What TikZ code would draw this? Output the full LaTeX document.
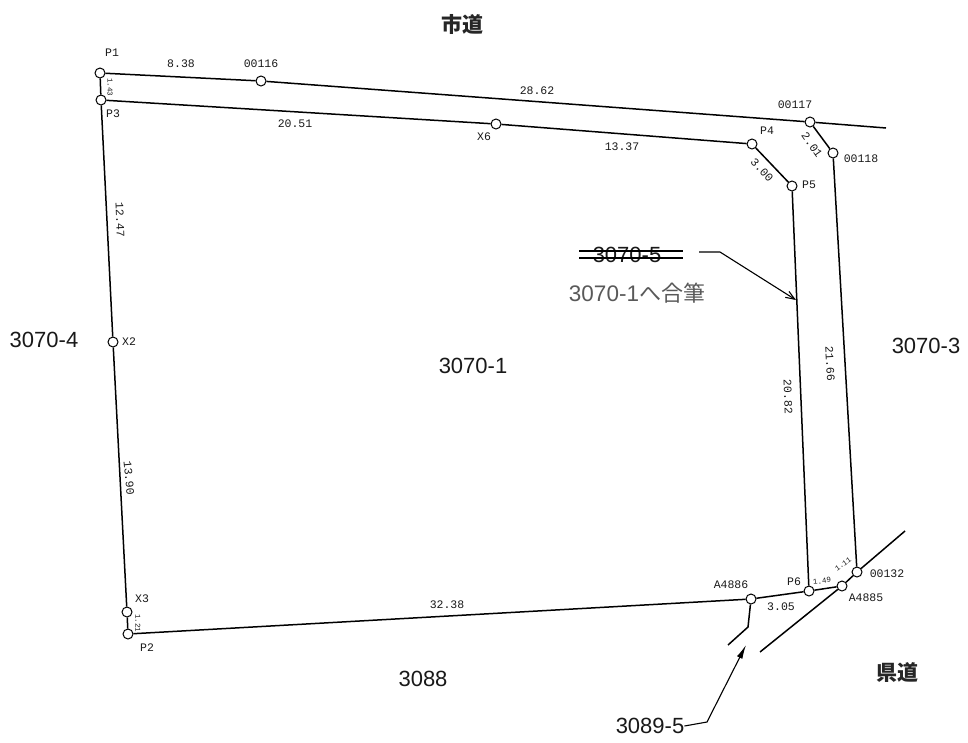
\documentclass[tikz,border=0pt]{standalone}
\usepackage{fontspec}
\setmainfont{Liberation Sans}
\newfontfamily\plot{Liberation Mono}
\newfontfamily\cjk{Noto Sans CJK JP}
\usetikzlibrary{arrows.meta}
\tikzset{
  pt/.style={circle,draw=black,fill=white,line width=1pt,minimum size=10pt,inner sep=0pt},
  ln/.style={draw=black,line width=1.5pt},
  thin line/.style={draw=black,line width=1.1pt},
  sm/.style={font=\plot\fontsize{11.5}{11.5}\selectfont,inner sep=0pt,text=black!90},
  tiny label/.style={font=\plot\fontsize{7.5}{7.5}\selectfont,inner sep=0pt,text=black!90},
  big/.style={font=\fontsize{22}{22}\selectfont,inner sep=0pt,text=black!90},
  han/.style={font=\cjk\bfseries\fontsize{21}{21}\selectfont,inner sep=0pt,text=black!85},
  gray label/.style={font=\fontsize{22.5}{22.5}\selectfont,inner sep=0pt,text=black!65}
}
\begin{document}
\begin{tikzpicture}[x=1pt,y=-1pt]
\useasboundingbox (0,0) rectangle (968,742);
% points
\node[pt] (P1) at (100,73) {};
\node[pt] (n116) at (261,81) {};
\node[pt] (n117) at (810,122) {};
\node[pt] (n118) at (833,153) {};
\node[pt] (P3) at (101,100) {};
\node[pt] (X6) at (496,124) {};
\node[pt] (P4) at (752,144) {};
\node[pt] (P5) at (792,186) {};
\node[pt] (X2) at (113,342) {};
\node[pt] (X3) at (127,612) {};
\node[pt] (P2) at (128,634) {};
\node[pt] (A4886) at (751,599) {};
\node[pt] (P6) at (809,591) {};
\node[pt] (A4885) at (842,586) {};
\node[pt] (n132) at (857,572) {};
\coordinate (roadE) at (886,128);
\coordinate (sw) at (760,652);
\coordinate (ne) at (905,531);
\coordinate (b1) at (748,627);
\coordinate (b2) at (728,645);
% lines
\draw[ln] (P1)--(n116);
\draw[ln] (n116)--(n117);
\draw[ln] (n117)--(roadE);
\draw[ln] (n117)--(n118);
\draw[ln] (n118)--(n132);
\draw[ln] (P1)--(P3);
\draw[ln] (P3)--(X6);
\draw[ln] (X6)--(P4);
\draw[ln] (P4)--(P5);
\draw[ln] (P5)--(P6);
\draw[ln] (P3)--(X2);
\draw[ln] (X2)--(X3);
\draw[ln] (X3)--(P2);
\draw[ln] (P2)--(A4886);
\draw[ln] (A4886)--(P6);
\draw[ln] (P6)--(A4885);
\draw[ln] (A4885)--(n132);
\draw[ln] (sw)--(A4885);
\draw[ln] (n132)--(ne);
\draw[ln] (A4886)--(b1)--(b2);
% small labels
\node[sm] (lP1) at (112,53) {P1};
\node[sm] (l116) at (261,64) {00116};
\node[sm] (l838) at (181,64) {8.38};
\node[sm] (l2862) at (537,91) {28.62};
\node[sm] (l117) at (795,105) {00117};
\node[sm] (l118) at (861,159) {00118};
\node[sm] (lP4) at (767,131) {P4};
\node[sm] (lP5) at (809,185) {P5};
\node[sm] (lP3) at (113,114) {P3};
\node[sm] (l2051) at (295,124) {20.51};
\node[sm] (lX6) at (484,137) {X6};
\node[sm] (l1337) at (622,147) {13.37};
\node[sm,rotate=-48] (l300) at (762,170) {3.00};
\node[sm,rotate=-55] (l201) at (812,145) {2.01};
\node[tiny label,rotate=-90] (l143) at (110,87) {1.43};
\node[sm,rotate=-88] (l1247) at (120,220) {12.47};
\node[sm] (lX2) at (129,342) {X2};
\node[sm,rotate=-85] (l1390) at (129,478) {13.90};
\node[sm] (lX3) at (142,599) {X3};
\node[tiny label,rotate=-90] (l121) at (138,623) {1.21};
\node[sm] (lP2) at (147,648) {P2};
\node[sm] (l3238) at (447,605) {32.38};
\node[sm] (lA4886) at (731,585) {A4886};
\node[sm] (lP6) at (794,582) {P6};
\node[sm] (l305) at (781,607) {3.05};
\node[tiny label,rotate=8] (l149) at (822,581) {1.49};
\node[tiny label,rotate=35] (l111) at (843,564) {1.11};
\node[sm] (l132) at (887,574) {00132};
\node[sm] (lA4885) at (866,598) {A4885};
\node[sm,rotate=-88] (l2082) at (788,397) {20.82};
\node[sm,rotate=-87] (l2166) at (830,364) {21.66};
% large labels
\node[han] (road1) at (462,24) {市道};
\node[han] (road2) at (897,672) {県道};
\node[big] (a) at (473,366) {3070-1};
\node[big] (b) at (44,340) {3070-4};
\node[big] (c) at (926,346) {3070-3};
\node[big] (d) at (423,679) {3088};
\node[big] (e) at (650,726) {3089-5};
\node[big] (f) at (627,255) {3070-5};
\node[gray label] (g) at (637,293) {3070-1\cjk\fontsize{22}{22}\selectfont へ合筆};
% strike-through
\coordinate (s1) at (579,251);
\coordinate (s2) at (683,251);
\coordinate (s3) at (579,258);
\coordinate (s4) at (683,258);
\draw[thin line] (s1)--(s2);
\draw[thin line] (s3)--(s4);
% arrows
\coordinate (t1) at (699,252);
\coordinate (t2) at (720,252);
\coordinate (t3) at (796,300);
\draw[thin line,-{Straight Barb[length=9pt,width=7pt]}] (t1)--(t2)--(t3);
\draw[thin line,-{Latex[length=14pt,width=6pt]}] (e.east)--(707,722)--(746,645);
\end{tikzpicture}
\end{document}
